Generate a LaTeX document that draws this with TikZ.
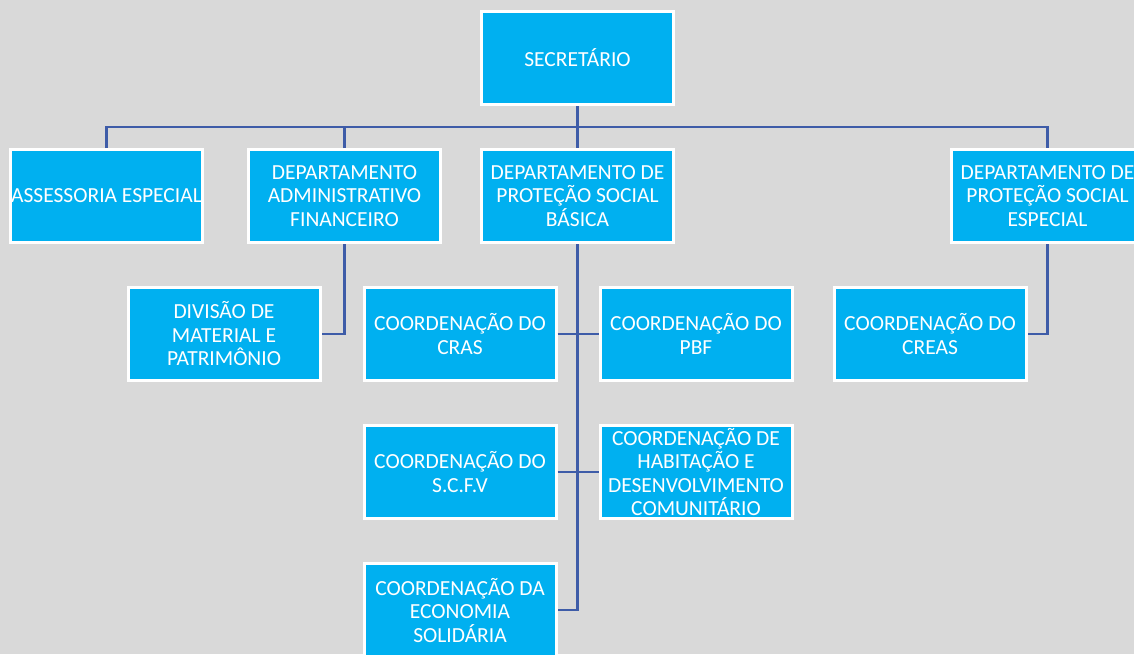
\documentclass[tikz,border=0pt]{standalone}
\usepackage{fontspec}
\setmainfont{Carlito}
\usepackage{tikz}
\usetikzlibrary{positioning}
\usetikzlibrary{calc}
\usepackage{xcolor}
\definecolor{mycyan}{RGB}{0,176,240}
\definecolor{mygray}{RGB}{217,217,217}
\definecolor{myline}{RGB}{62,92,168}

\tikzset{
    unit/.style={rectangle, fill=mycyan, draw=white, line width=3pt,
            minimum width=192pt, minimum height=93pt, inner sep=0pt,
            align=center, text=white, font=\fontsize{21.5}{23.5}\selectfont},
    link/.style={draw=myline, line width=2.7pt}
}

\begin{document}
\begin{tikzpicture}

    % background
    \fill[mygray] (0,0) rectangle (1134pt,-654pt);
    \useasboundingbox (0,0) rectangle (1134pt,-654pt);

    % top
    \node[unit] (sec) at (577.5pt,-58pt) {SECRETÁRIO};

    % ------------------

    % departments
    \node[unit, below = 42pt of sec] (dpsb) {DEPARTAMENTO DE\\PROTEÇÃO SOCIAL\\BÁSICA};
    \node[unit, left = 38pt of dpsb] (daf) {DEPARTAMENTO\\ADMINISTRATIVO\\FINANCEIRO};
    \node[unit, left = 43pt of daf] (ases) {ASSESSORIA ESPECIAL};
    \node[unit, right = 275pt of dpsb] (dpse) {DEPARTAMENTO DE\\PROTEÇÃO SOCIAL\\ESPECIAL};

    % ------------------

    % coordinations
    \node[unit, below = 42pt of dpsb, xshift=-117.5pt] (cras) {COORDENAÇÃO DO\\CRAS};
    \node[unit, right = 41pt of cras] (pbf) {COORDENAÇÃO DO\\PBF};
    \node[unit, below = 42pt of cras] (scfv) {COORDENAÇÃO DO\\S.C.F.V};
    \node[unit, below = 42pt of pbf] (hab) {COORDENAÇÃO DE\\HABITAÇÃO E\\DESENVOLVIMENTO\\COMUNITÁRIO};
    \node[unit, below = 42pt of scfv] (eco) {COORDENAÇÃO DA\\ECONOMIA\\SOLIDÁRIA};
    \node[unit, left = 41pt of cras] (div) {DIVISÃO DE\\MATERIAL E\\PATRIMÔNIO};
    \node[unit, below = 42pt of dpse, xshift=-117.5pt] (creas) {COORDENAÇÃO DO\\CREAS};

    % ------------------

    % links
    \coordinate (bus) at ($(sec.south)!0.5!(dpsb.north)$);
    \path[link]
    (sec) -- (dpsb)
    (ases.north) |- (bus) -| (dpse.north)
    (daf.north) |- (bus)
    (daf.south) |- (div.east)
    (dpsb.south) |- (eco.east)
    (cras.east) -- (pbf.west)
    (scfv.east) -- (hab.west)
    (dpse.south) |- (creas.east)
    ;
\end{tikzpicture}
\end{document}
